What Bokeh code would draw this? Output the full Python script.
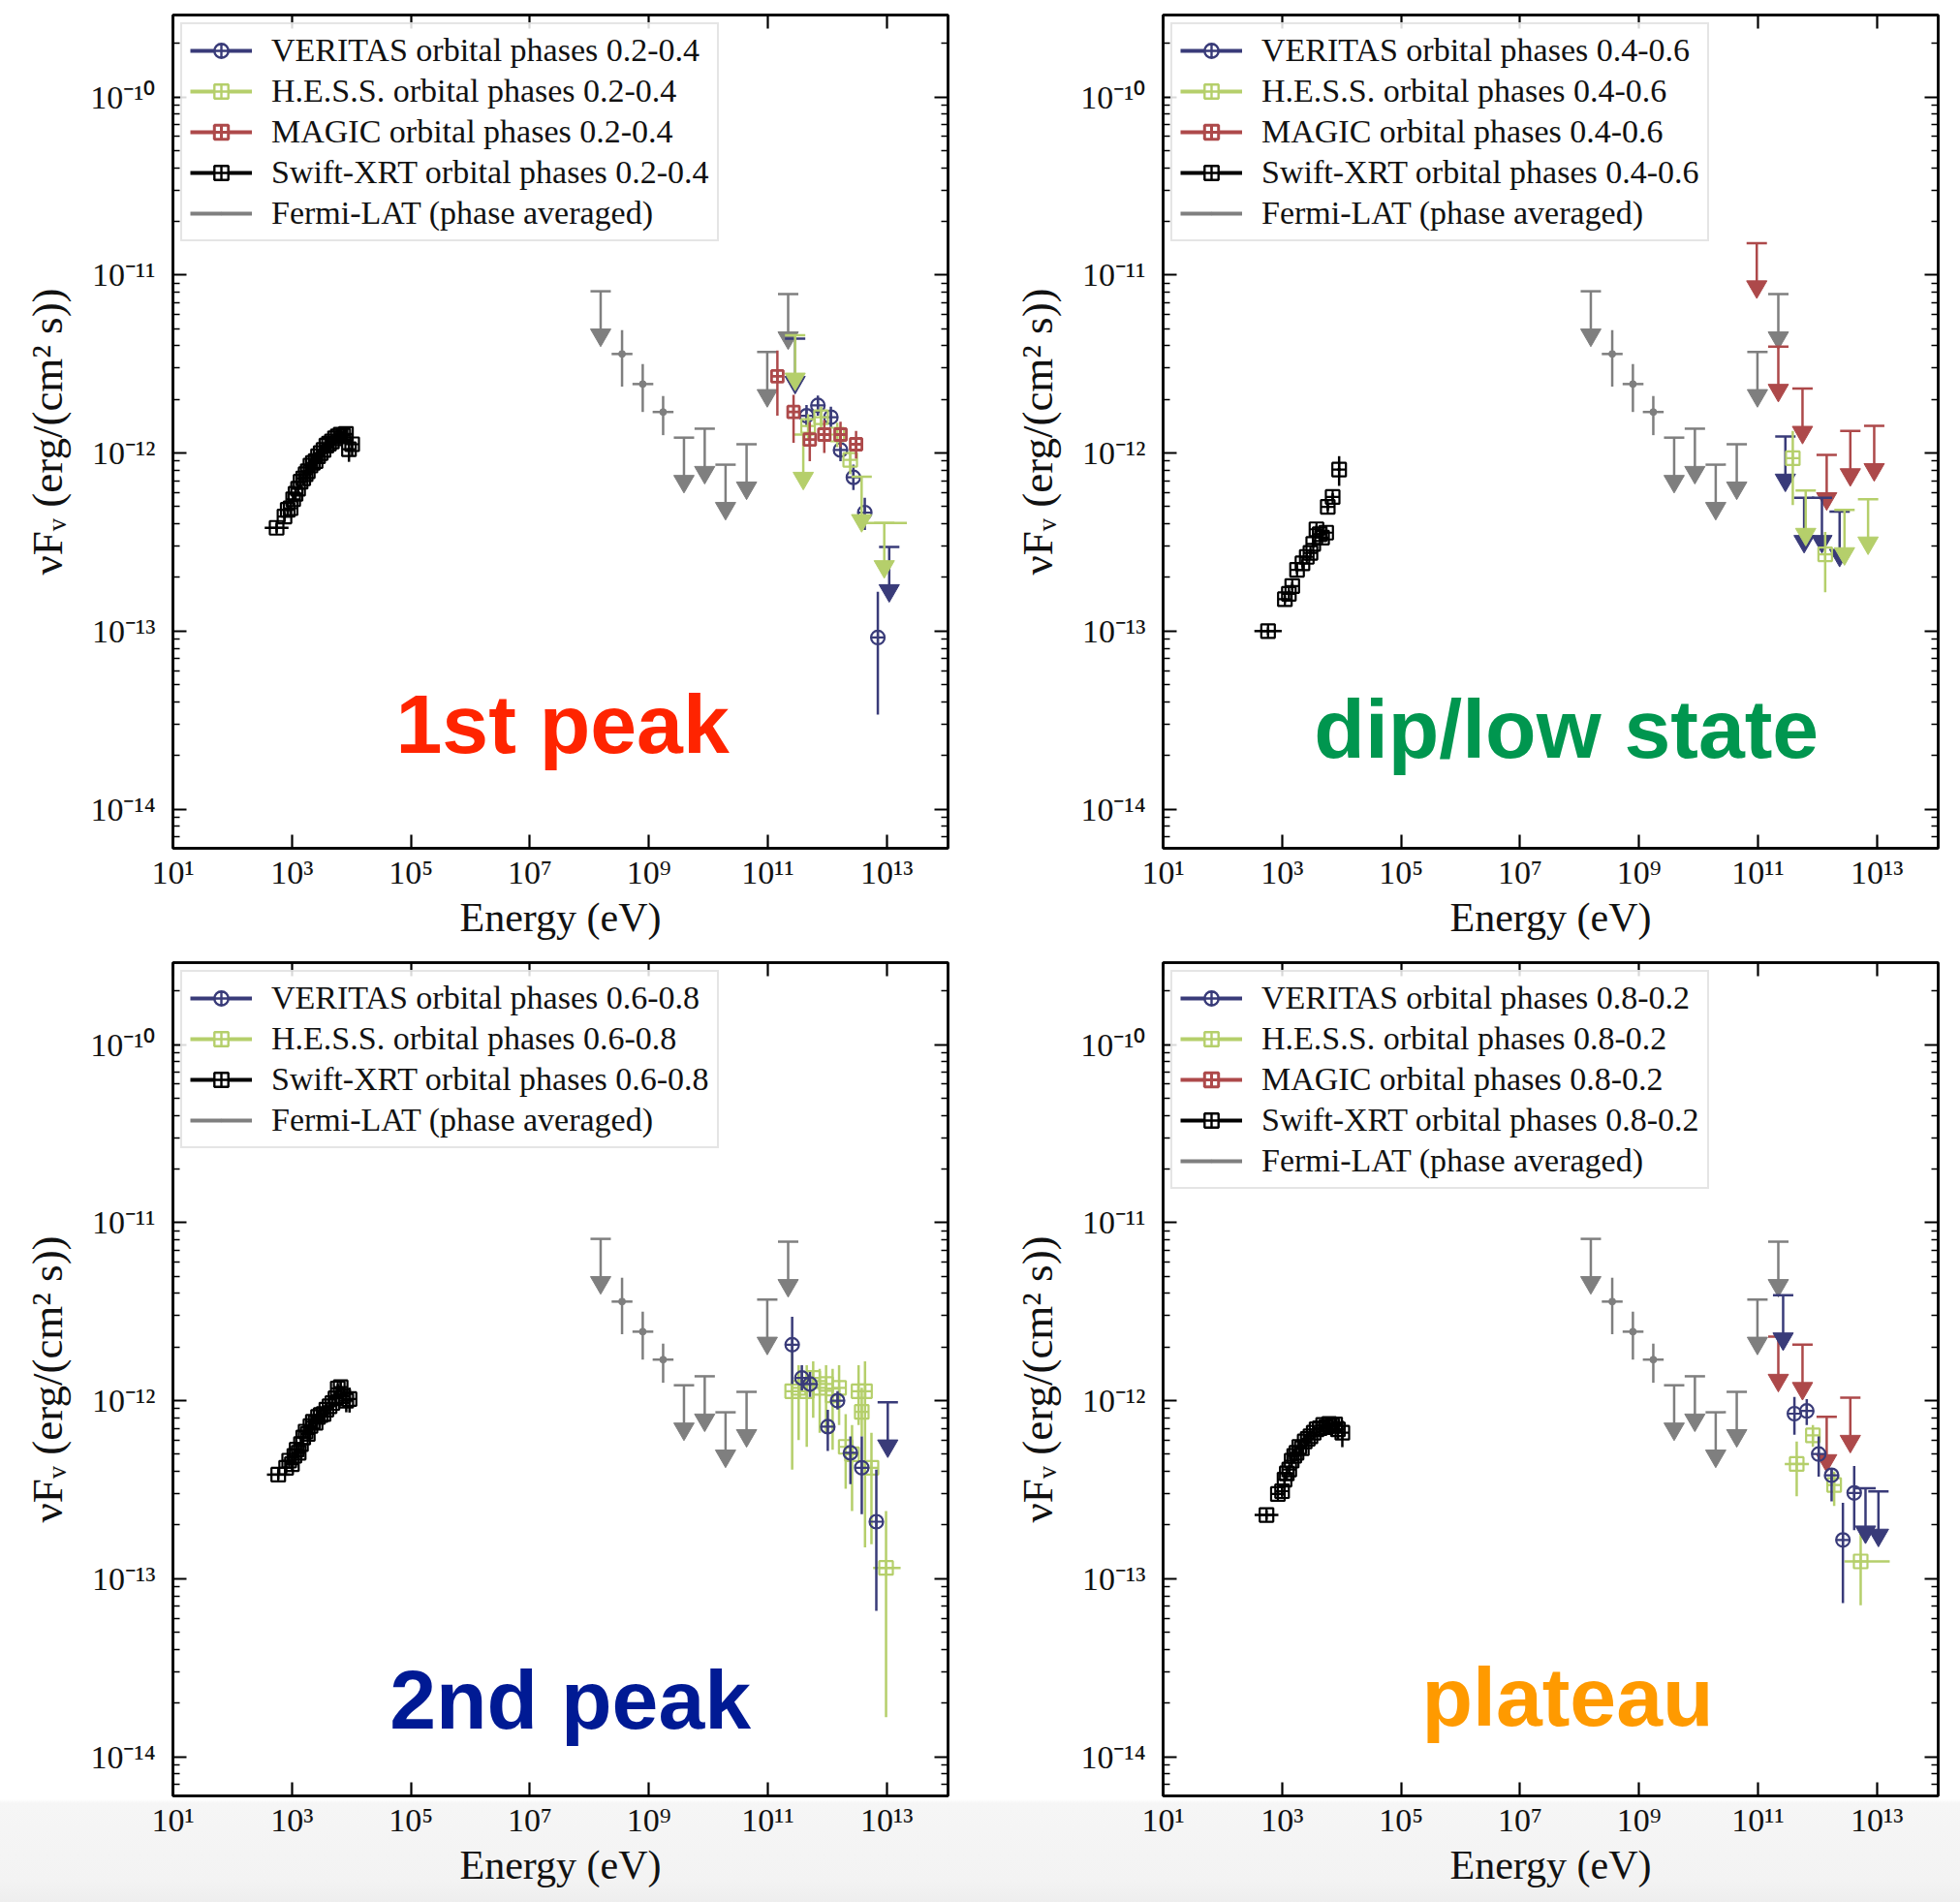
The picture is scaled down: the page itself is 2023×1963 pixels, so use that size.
from bokeh.plotting import figure
from bokeh.models import (LogAxis, FixedTicker, CustomJSTickFormatter, Label,
                          Legend, LegendItem, Range1d)
from bokeh.layouts import column, row
from bokeh.embed import file_html
from bokeh.resources import INLINE

# ---------------------------------------------------------------- data
# Fermi-LAT, phase averaged (same in every panel)
FERMI_E = [3.55e8, 7.9e8, 1.74e9]
FERMI_F = [3.6e-12, 2.44e-12, 1.70e-12]
FERMI_F_LO = [2.36e-12, 1.70e-12, 1.26e-12]
FERMI_F_HI = [4.9e-12, 3.16e-12, 2.09e-12]
FERMI_E_LO = [2.37e8, 5.31e8, 1.16e9]
FERMI_E_HI = [5.31e8, 1.19e9, 2.60e9]
FERMI_UL_E = [1.55e8, 3.9e9, 8.7e9, 1.95e10, 4.4e10, 9.8e10, 2.2e11]
FERMI_UL_F = [8.1e-12, 1.22e-12, 1.37e-12, 8.6e-13, 1.12e-12, 3.7e-12, 7.8e-12]

# Swift-XRT, one set per orbital phase bin (E in eV, relative flux error,
# half bin width in decades)
XRT_E_P1 = [553, 750, 850, 950, 1050, 1150, 1270, 1400, 1550, 1700, 1850, 2050,
            2250, 2500, 2750, 3050, 3400, 3800, 4200, 4700, 5300, 5900, 6600,
            7300, 8100, 9100, 10300]
XRT_F_P1 = [3.8e-13, 4.4e-13, 4.8e-13, 4.9e-13, 5.5e-13, 5.9e-13, 6.3e-13, 6.9e-13,
            7.2e-13, 7.6e-13, 7.9e-13, 8.5e-13, 8.8e-13, 9.0e-13, 9.6e-13, 1.00e-12,
            1.04e-12, 1.10e-12, 1.13e-12, 1.16e-12, 1.21e-12, 1.24e-12, 1.27e-12,
            1.25e-12, 1.28e-12, 1.05e-12, 1.12e-12]
XRT_ERR_P1 = [0.06] * 25 + [0.15, 0.14]
XRT_DEX_P1 = [0.20] + [0.03] * 26

XRT_E_P2 = [581, 1114, 1300, 1483, 1786, 2200, 2600, 3000, 3342, 3784, 4295,
            4700, 5508, 5861, 7079, 9099]
XRT_F_P2 = [1.0e-13, 1.51e-13, 1.62e-13, 1.79e-13, 2.21e-13, 2.40e-13, 2.61e-13,
            2.75e-13, 3.09e-13, 3.73e-13, 3.50e-13, 3.35e-13, 3.57e-13, 4.99e-13,
            5.66e-13, 8.07e-13]
XRT_ERR_P2 = [0.05] * 15 + [0.19]
XRT_DEX_P2 = [0.23] + [0.03] * 15

XRT_E_P3 = [589, 800, 900, 1000, 1100, 1200, 1300, 1420, 1550, 1700, 1850, 2050,
            2250, 2500, 2750, 3050, 3400, 3800, 4300, 4800, 5400, 5900, 6600, 7300,
            8200, 9300]
XRT_F_P3 = [3.84e-13, 4.2e-13, 4.6e-13, 4.4e-13, 4.9e-13, 5.3e-13, 5.1e-13, 5.7e-13,
            6.2e-13, 6.7e-13, 6.5e-13, 7.2e-13, 7.6e-13, 7.5e-13, 8.1e-13, 8.3e-13,
            8.4e-13, 8.9e-13, 9.3e-13, 9.7e-13, 1.03e-12, 1.17e-12, 1.19e-12,
            1.06e-12, 1.00e-12, 1.02e-12]
XRT_ERR_P3 = [0.06] * 24 + [0.14, 0.16]
XRT_DEX_P3 = [0.19] + [0.03] * 25

XRT_E_P4 = [547, 850, 1000, 1100, 1200, 1320, 1450, 1600, 1750, 1950, 2150, 2400,
            2700, 3000, 3400, 3800, 4300, 4900, 5500, 6200, 7000, 7800, 8700, 10300]
XRT_F_P4 = [2.28e-13, 2.99e-13, 3.1e-13, 3.6e-13, 3.9e-13, 4.1e-13, 4.6e-13, 4.9e-13,
            5.1e-13, 5.5e-13, 5.4e-13, 5.9e-13, 6.1e-13, 6.3e-13, 6.6e-13, 6.9e-13,
            7.0e-13, 7.3e-13, 7.1e-13, 7.4e-13, 7.2e-13, 7.35e-13, 6.9e-13, 6.6e-13]
XRT_ERR_P4 = [0.06] * 22 + [0.12, 0.17]
XRT_DEX_P4 = [0.20] + [0.03] * 23

# VERITAS
VER_E_P1 = [4.48e11, 6.95e11, 1.15e12, 1.67e12, 2.75e12, 4.27e12, 7.08e12]
VER_F_P1 = [1.62e-12, 1.85e-12, 1.59e-12, 1.04e-12, 7.3e-13, 4.63e-13, 9.2e-14]
VER_LO_P1 = [1.41e-12, 1.62e-12, 1.38e-12, 9.0e-13, 6.2e-13, 3.7e-13, 3.4e-14]
VER_HI_P1 = [1.86e-12, 2.10e-12, 1.82e-12, 1.20e-12, 8.6e-13, 5.6e-13, 1.66e-13]
VER_UL_E_P1 = [2.88e11, 1.10e13]
VER_UL_F_P1 = [4.39e-12, 2.97e-13]

VER_UL_E_P2 = [2.89e11, 5.97e11, 1.19e12, 2.36e12]
VER_UL_F_P2 = [1.24e-12, 5.61e-13, 5.61e-13, 4.69e-13]

VER_E_P3 = [2.57e11, 3.74e11, 5.13e11, 1.02e12, 1.49e12, 2.45e12, 3.8e12, 6.68e12]
VER_F_P3 = [2.06e-12, 1.34e-12, 1.24e-12, 7.14e-13, 1.0e-12, 5.09e-13, 4.2e-13, 2.09e-13]
VER_LO_P3 = [1.24e-12, 1.14e-12, 1.05e-12, 5.22e-13, 8.9e-13, 3.4e-13, 2.3e-13, 6.6e-14]
VER_HI_P3 = [2.96e-12, 1.58e-12, 1.45e-12, 8.87e-13, 1.13e-12, 6.3e-13, 6.3e-13, 4.1e-13]
VER_UL_E_P3 = [1.04e13]
VER_UL_F_P3 = [9.8e-13]

VER_E_P4 = [4.1e11, 6.61e11, 1.05e12, 1.73e12, 2.68e12, 4.15e12]
VER_F_P4 = [8.45e-13, 8.75e-13, 5.01e-13, 3.81e-13, 1.65e-13, 3.03e-13]
VER_LO_P4 = [6.44e-13, 7.3e-13, 3.74e-13, 2.72e-13, 7.3e-14, 1.87e-13]
VER_HI_P4 = [1.05e-12, 1.02e-12, 6.3e-13, 4.15e-13, 2.67e-13, 4.3e-13]
VER_UL_E_P4 = [2.65e11, 6.43e12, 1.06e13]
VER_UL_F_P4 = [3.91e-12, 3.22e-13, 3.09e-13]

# H.E.S.S.
HESS_E_P1 = [4.76e11, 7.87e11, 1.47e12, 2.43e12]
HESS_F_P1 = [1.42e-12, 1.59e-12, 1.27e-12, 9.16e-13]
HESS_LO_P1 = [1.20e-12, 1.38e-12, 1.08e-12, 7.6e-13]
HESS_HI_P1 = [1.65e-12, 1.82e-12, 1.48e-12, 1.07e-12]
HESS_UL_E_P1 = [2.88e11, 3.95e11, 3.78e12, 9.08e12]
HESS_UL_F_P1 = [4.58e-12, 1.27e-12, 7.35e-13, 4.05e-13]
HESS_UL_ELO_P1 = [None, None, None, 3.13e12]
HESS_UL_EHI_P1 = [None, None, None, 2.18e13]

HESS_E_P2 = [3.85e11, 1.35e12]
HESS_F_P2 = [9.35e-13, 2.7e-13]
HESS_LO_P2 = [5.1e-13, 1.65e-13]
HESS_HI_P2 = [1.33e-12, 3.6e-13]
HESS_UL_E_P2 = [6.35e11, 2.85e12, 7.1e12]
HESS_UL_F_P2 = [6.15e-13, 4.79e-13, 5.5e-13]

HESS_E_P3 = [2.57e11, 3.3e11, 4.52e11, 5.8e11, 7.46e11, 9.55e11, 1.23e12, 1.58e12,
             2.04e12, 2.61e12, 3.36e12, 3.8e12, 4.31e12, 5.53e12, 9.73e12]
HESS_F_P3 = [1.13e-12, 1.18e-12, 1.13e-12, 1.34e-12, 1.18e-12, 1.24e-12, 1.07e-12,
             1.18e-12, 5.5e-13, 5.0e-13, 1.13e-12, 8.65e-13, 1.13e-12, 4.2e-13, 1.15e-13]
HESS_LO_P3 = [4.1e-13, 6.0e-13, 5.5e-13, 8.0e-13, 6.6e-13, 6.6e-13, 5.3e-13, 7.3e-13,
              3.2e-13, 2.4e-13, 7.3e-13, 6.3e-13, 1.5e-13, 1.56e-13, 1.67e-14]
HESS_HI_P3 = [1.91e-12, 1.58e-12, 1.58e-12, 1.66e-12, 1.51e-12, 1.58e-12, 1.51e-12,
              1.58e-12, 8.4e-13, 7.3e-13, 1.58e-12, 1.18e-12, 1.66e-12, 6.6e-13, 2.4e-13]
HESS_ELO_P3 = [None] * 14 + [5.9e12]
HESS_EHI_P3 = [None] * 14 + [1.71e13]

HESS_E_P4 = [4.48e11, 8.38e11, 1.91e12, 5.33e12]
HESS_F_P4 = [4.41e-13, 6.38e-13, 3.36e-13, 1.25e-13]
HESS_LO_P4 = [2.9e-13, 5.5e-13, 2.56e-13, 7.1e-14]
HESS_HI_P4 = [5.9e-13, 7.3e-13, 4.0e-13, 1.79e-13]
HESS_ELO_P4 = [2.82e11, None, None, 2.85e12]
HESS_EHI_P4 = [7.2e11, None, None, 1.64e13]

# MAGIC
MAGIC_E_P1 = [1.45e11, 2.71e11, 5.08e11, 8.91e11, 1.67e12, 3.05e12]
MAGIC_F_P1 = [2.70e-12, 1.70e-12, 1.19e-12, 1.27e-12, 1.27e-12, 1.12e-12]
MAGIC_LO_P1 = [1.62e-12, 1.14e-12, 9.0e-13, 1.0e-12, 1.08e-12, 9.3e-13]
MAGIC_HI_P1 = [3.76e-12, 2.12e-12, 1.49e-12, 1.53e-12, 1.50e-12, 1.33e-12]

MAGIC_UL_E_P2 = [9.55e10, 2.2e11, 5.61e11, 1.43e12, 3.57e12, 9.0e12]
MAGIC_UL_F_P2 = [1.51e-11, 3.96e-12, 2.30e-12, 9.75e-13, 1.33e-12, 1.42e-12]

MAGIC_UL_E_P4 = [2.2e11, 5.61e11, 1.43e12, 3.57e12]
MAGIC_UL_F_P4 = [2.29e-12, 2.06e-12, 8.1e-13, 1.04e-12]

PHASES = ["0.2-0.4", "0.4-0.6", "0.6-0.8", "0.8-0.2"]
TAGS = ["1st peak", "dip/low state", "2nd peak", "plateau"]
TAG_COLORS = ["#ff2400", "#00964f", "#001a94", "#ff9a00"]

# ---------------------------------------------------------------- style
VERITAS_COLOR = "#393b79"
HESS_COLOR = "#b5cf6b"
MAGIC_COLOR = "#ad494a"
XRT_COLOR = "#000000"
FERMI_COLOR = "#7f7f7f"
SERIF = "Liberation Serif"
ARROW_DEX = 0.245          # arrow head offset below an upper limit, in decades
X_RANGE = (1e1, 10 ** 14.03)
Y_RANGE = (10 ** -14.22, 10 ** -9.54)
NAN = float("nan")

SUPER = CustomJSTickFormatter(code="""
const sup = {"-": "\u207b", "0": "\u2070", "1": "\u00b9", "2": "\u00b2", "3": "\u00b3",
             "4": "\u2074", "5": "\u2075", "6": "\u2076", "7": "\u2077", "8": "\u2078",
             "9": "\u2079"};
const e = Math.round(Math.log10(tick));
return "10" + String(e).split("").map((c) => sup[c]).join("");
""")
BLANK = CustomJSTickFormatter(code="return '';")


def x_ticker():
    return FixedTicker(ticks=[10.0 ** k for k in range(1, 15, 2)], minor_ticks=[])


def y_ticker():
    return FixedTicker(ticks=[10.0 ** k for k in range(-15, -8)],
                       minor_ticks=[m * 10.0 ** k for k in range(-15, -9) for m in range(2, 10)])


def style_axis(ax, labelled):
    ax.axis_line_width = 2.5
    ax.axis_line_color = "black"
    ax.major_tick_in = 14
    ax.major_tick_out = 0
    ax.major_tick_line_width = 2.2
    ax.minor_tick_in = 7
    ax.minor_tick_out = 0
    ax.minor_tick_line_width = 1.6
    ax.major_label_text_font = SERIF
    if labelled:
        ax.major_label_text_font_size = "34px"
        ax.major_label_text_color = "#111111"
        ax.axis_label_text_font = SERIF
        ax.axis_label_text_color = "#111111"
        ax.axis_label_text_font_style = "normal"
    else:
        ax.major_label_text_font_size = "8px"
        ax.major_label_standoff = 0


def errorbars(p, E, F, lo, hi, color, e_lo=None, e_hi=None, width=2.5):
    p.segment(x0=E, y0=lo, x1=E, y1=hi, line_color=color, line_width=width)
    if e_lo is not None:
        xs = [(a, b, f) for a, b, f in zip(e_lo, e_hi, F) if a is not None]
        if xs:
            p.segment(x0=[s[0] for s in xs], y0=[s[2] for s in xs],
                      x1=[s[1] for s in xs], y1=[s[2] for s in xs],
                      line_color=color, line_width=width)


def points(p, E, F, lo, hi, color, marker, size, e_lo=None, e_hi=None, lw=2.2):
    errorbars(p, E, F, lo, hi, color, e_lo, e_hi)
    p.scatter(x=E, y=F, marker=marker, size=size, line_color=color,
              fill_color=None, line_width=lw)


def upper_limits(p, E, UL, color, e_lo=None, e_hi=None):
    head = [u * 10 ** -ARROW_DEX for u in UL]
    p.segment(x0=E, y0=UL, x1=E, y1=head, line_color=color, line_width=2.5)
    p.scatter(x=E, y=UL, marker="dash", size=21, line_color=color, line_width=2.5)
    p.scatter(x=E, y=head, marker="inverted_triangle", size=21,
              line_color=color, fill_color=color)
    if e_lo is not None:
        xs = [(a, b, f) for a, b, f in zip(e_lo, e_hi, UL) if a is not None]
        if xs:
            p.segment(x0=[s[0] for s in xs], y0=[s[2] for s in xs],
                      x1=[s[1] for s in xs], y1=[s[2] for s in xs],
                      line_color=color, line_width=2.5)


def xrt(p, E, F, err, dex):
    lo = [f * (1 - r) for f, r in zip(F, err)]
    hi = [f * (1 + r) for f, r in zip(F, err)]
    e_lo = [e * 10 ** -d for e, d in zip(E, dex)]
    e_hi = [e * 10 ** d for e, d in zip(E, dex)]
    points(p, E, F, lo, hi, XRT_COLOR, "square_cross", 14, e_lo, e_hi)


def fermi(p):
    upper_limits(p, FERMI_UL_E, FERMI_UL_F, FERMI_COLOR)
    errorbars(p, FERMI_E, FERMI_F, FERMI_F_LO, FERMI_F_HI, FERMI_COLOR,
              FERMI_E_LO, FERMI_E_HI)
    p.scatter(x=FERMI_E, y=FERMI_F, marker="circle", size=7,
              line_color=FERMI_COLOR, fill_color=FERMI_COLOR)


def make_panel(idx, width, height, left, right, top, bottom, draw, instruments, tag_xy):
    p = figure(width=width, height=height, x_axis_type="log", y_axis_type="log",
               x_range=Range1d(*X_RANGE), y_range=Range1d(*Y_RANGE),
               output_backend="svg", toolbar_location=None,
               min_border_left=left, min_border_right=right,
               min_border_top=top, min_border_bottom=bottom,
               border_fill_color=None, background_fill_color="white",
               outline_line_color="black", outline_line_width=2.5)
    p.xgrid.visible = False
    p.ygrid.visible = False
    p.xaxis.ticker = x_ticker()
    p.yaxis.ticker = y_ticker()
    p.xaxis.formatter = SUPER
    p.yaxis.formatter = SUPER
    style_axis(p.xaxis[0], True)
    style_axis(p.yaxis[0], True)
    p.xaxis.major_label_standoff = 6
    p.yaxis.major_label_standoff = 18
    p.xaxis.axis_label = "Energy (eV)"
    p.xaxis.axis_label_text_font_size = "42px"
    p.xaxis.axis_label_standoff = 2
    p.yaxis.axis_label = "\u03bdF\u1d65 (erg/(cm\u00b2 s))"
    p.yaxis.axis_label_text_font_size = "45px"
    p.yaxis.axis_label_standoff = 16

    top_ax = LogAxis(ticker=x_ticker(), formatter=BLANK)
    right_ax = LogAxis(ticker=y_ticker(), formatter=BLANK)
    style_axis(top_ax, False)
    style_axis(right_ax, False)
    p.add_layout(top_ax, "above")
    p.add_layout(right_ax, "right")

    fermi(p)
    draw(p)

    phase = PHASES[idx]
    entries = {
        "VERITAS": (f"VERITAS orbital phases {phase}", VERITAS_COLOR, "circle_cross", 2.4),
        "HESS": (f"H.E.S.S. orbital phases {phase}", HESS_COLOR, "square_cross", 2.4),
        "MAGIC": (f"MAGIC orbital phases {phase}", MAGIC_COLOR, "square_cross", 3.0),
        "XRT": (f"Swift-XRT orbital phases {phase}", XRT_COLOR, "square_cross", 2.4),
        "FERMI": ("Fermi-LAT (phase averaged)", FERMI_COLOR, "dot", 2.4),
    }
    items = []
    for key in instruments:
        text, color, marker, lw = entries[key]
        # legend swatches: one placeholder (NaN) point, never visible in the frame
        ln = p.line(x=[NAN], y=[NAN], line_color=color, line_width=4)
        mk = p.scatter(x=[NAN], y=[NAN], marker=marker, line_color=color,
                       fill_color="white" if marker != "dot" else color, line_width=lw)
        items.append(LegendItem(label=text, renderers=[ln, mk]))
    legend = Legend(items=items, location="top_left", margin=8, padding=8,
                    spacing=4, label_height=38, glyph_height=36, glyph_width=64,
                    label_standoff=20, label_text_font=SERIF,
                    label_text_font_size="34px", label_text_color="#111111",
                    label_text_baseline="middle",
                    border_line_color="#cccccc", border_line_width=2,
                    background_fill_color="white", background_fill_alpha=0.85)
    p.add_layout(legend)

    p.add_layout(Label(x=tag_xy[0], y=tag_xy[1], text=TAGS[idx],
                       text_color=TAG_COLORS[idx], text_font="Liberation Sans",
                       text_font_style="bold", text_font_size="86px",
                       text_align="center", text_baseline="middle"))
    return p


def draw_p1(p):
    points(p, VER_E_P1, VER_F_P1, VER_LO_P1, VER_HI_P1, VERITAS_COLOR, "circle_cross", 14)
    upper_limits(p, VER_UL_E_P1, VER_UL_F_P1, VERITAS_COLOR)
    points(p, HESS_E_P1, HESS_F_P1, HESS_LO_P1, HESS_HI_P1, HESS_COLOR, "square_cross", 14)
    upper_limits(p, HESS_UL_E_P1, HESS_UL_F_P1, HESS_COLOR, HESS_UL_ELO_P1, HESS_UL_EHI_P1)
    points(p, MAGIC_E_P1, MAGIC_F_P1, MAGIC_LO_P1, MAGIC_HI_P1, MAGIC_COLOR, "square_cross",
           12, lw=2.8)
    xrt(p, XRT_E_P1, XRT_F_P1, XRT_ERR_P1, XRT_DEX_P1)


def draw_p2(p):
    upper_limits(p, MAGIC_UL_E_P2, MAGIC_UL_F_P2, MAGIC_COLOR)
    upper_limits(p, VER_UL_E_P2, VER_UL_F_P2, VERITAS_COLOR)
    points(p, HESS_E_P2, HESS_F_P2, HESS_LO_P2, HESS_HI_P2, HESS_COLOR, "square_cross", 14)
    upper_limits(p, HESS_UL_E_P2, HESS_UL_F_P2, HESS_COLOR)
    xrt(p, XRT_E_P2, XRT_F_P2, XRT_ERR_P2, XRT_DEX_P2)


def draw_p3(p):
    points(p, HESS_E_P3, HESS_F_P3, HESS_LO_P3, HESS_HI_P3, HESS_COLOR, "square_cross", 14,
           HESS_ELO_P3, HESS_EHI_P3)
    points(p, VER_E_P3, VER_F_P3, VER_LO_P3, VER_HI_P3, VERITAS_COLOR, "circle_cross", 14)
    upper_limits(p, VER_UL_E_P3, VER_UL_F_P3, VERITAS_COLOR)
    xrt(p, XRT_E_P3, XRT_F_P3, XRT_ERR_P3, XRT_DEX_P3)


def draw_p4(p):
    upper_limits(p, MAGIC_UL_E_P4, MAGIC_UL_F_P4, MAGIC_COLOR)
    points(p, HESS_E_P4, HESS_F_P4, HESS_LO_P4, HESS_HI_P4, HESS_COLOR, "square_cross", 14,
           HESS_ELO_P4, HESS_EHI_P4)
    points(p, VER_E_P4, VER_F_P4, VER_LO_P4, VER_HI_P4, VERITAS_COLOR, "circle_cross", 14)
    upper_limits(p, VER_UL_E_P4, VER_UL_F_P4, VERITAS_COLOR)
    xrt(p, XRT_E_P4, XRT_F_P4, XRT_ERR_P4, XRT_DEX_P4)


ALL = ["VERITAS", "HESS", "MAGIC", "XRT", "FERMI"]
NO_MAGIC = ["VERITAS", "HESS", "XRT", "FERMI"]

p1 = make_panel(0, 1022, 975, 178, 44, 15, 100, draw_p1, ALL, (10 ** 7.55, 10 ** -13.52))
p2 = make_panel(1, 1001, 975, 178, 23, 15, 100, draw_p2, ALL, (10 ** 7.78, 10 ** -13.55))
p3 = make_panel(2, 1022, 988, 178, 44, 18, 110, draw_p3, NO_MAGIC, (10 ** 7.68, 10 ** -13.68))
p4 = make_panel(3, 1001, 988, 178, 23, 18, 110, draw_p4, ALL, (10 ** 7.80, 10 ** -13.66))

layout = column(row(p1, p2), row(p3, p4),
                styles={"background": "linear-gradient(to bottom, #ffffff 0px, #ffffff 1857px, "
                                      "#f6f6f6 1861px, #f3f3f3 1940px, #eeeeee 1963px)"})

open("out.html", "w").write(file_html(layout, INLINE))
